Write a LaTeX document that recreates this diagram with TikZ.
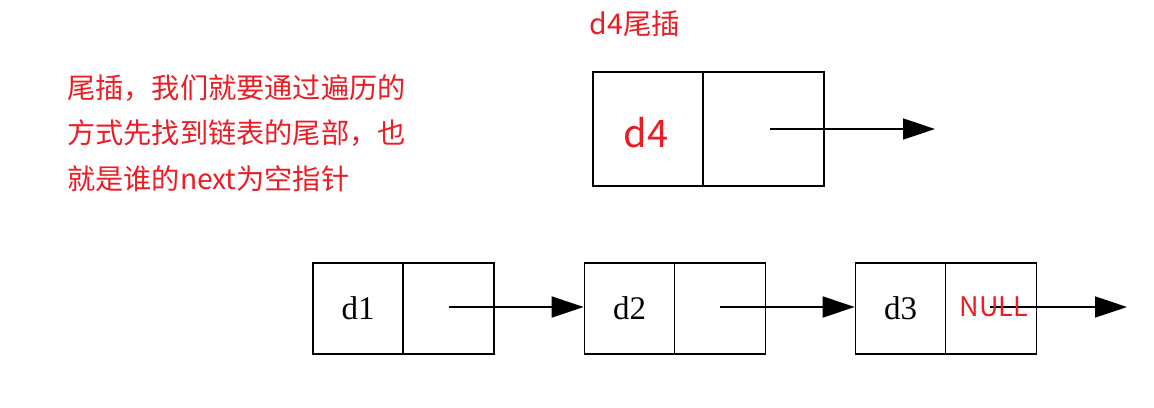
\documentclass[tikz,border=0pt]{standalone}
\usepackage{fontspec}
\newfontfamily\cjk{Noto Sans CJK SC}
\newfontfamily\serifd{Liberation Serif}
\usetikzlibrary{arrows.meta}
\definecolor{myred}{RGB}{235,28,36}
\begin{document}
\begin{tikzpicture}[x=1pt,y=-1pt,
  cell/.style={draw=black,line width=1.6pt,rectangle,inner sep=0pt,minimum height=91pt,minimum width=90pt},
  bigcell/.style={draw=black,line width=1.8pt,rectangle,inner sep=0pt,minimum height=114pt},
  dlabel/.style={font=\serifd\fontsize{33}{33}\selectfont},
  redtext/.style={text=myred,inner sep=0pt},
  ptr/.style={line width=1.5pt,-{Triangle[length=32pt,width=21pt]}}
]
\useasboundingbox (0,0) rectangle (1154,407);
% left explanation
\node[redtext,anchor=west,font=\cjk\fontsize{28.2}{28.2}\selectfont] (t1) at (67,88.5) {尾插，我们就要通过遍历的};
\node[redtext,anchor=west,font=\cjk\fontsize{28.2}{28.2}\selectfont] (t2) at (67,133.5) {方式先找到链表的尾部，也};
\node[redtext,anchor=west,font=\cjk\fontsize{28.2}{28.2}\selectfont] (t3) at (67,178.5) {就是谁的next为空指针};
% d4 node
\node[redtext,font=\cjk\fontsize{28.5}{28.5}\selectfont] (title) at (635,24) {d4尾插};
\node[bigcell,minimum width=110pt] (d4) at (648,129) {};
\node[redtext,font=\cjk\fontsize{38}{38}\selectfont] (d4t) at (646,133) {d4};
\node[bigcell,minimum width=121pt] (p4) at (763.5,129) {};
\coordinate (p4s) at (770,129);
\coordinate (e4) at (935,129);
\draw[ptr] (p4s) -- (e4);
% bottom list
\node[cell,dlabel] (c1) at (358,308.5) {d1};
\node[cell,minimum width=91pt] (p1) at (448.5,308.5) {};
\node[cell,dlabel] (c2) at (629.5,308.5) {d2};
\node[cell,minimum width=91pt] (p2) at (720,308.5) {};
\node[cell,dlabel] (c3) at (900.5,308.5) {d3};
\node[cell,minimum width=91pt] (p3) at (991,308.5) {};
\coordinate (e3) at (1127,307);
\draw[ptr] (449,307) -- (c2.west |- 0,307);
\draw[ptr] (720,307) -- (c3.west |- 0,307);
\draw[ptr] (990,307) -- (e3);
\node[redtext,font=\cjk\fontsize{27}{27}\selectfont] (null) at (994,307) {NULL};
\end{tikzpicture}
\end{document}
